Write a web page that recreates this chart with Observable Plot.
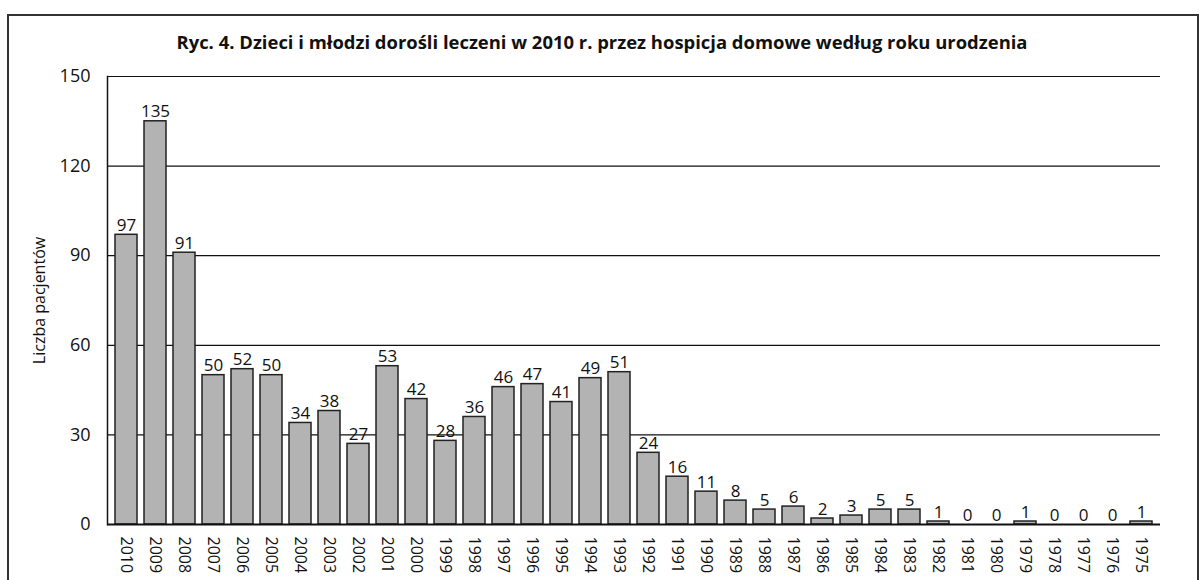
<!DOCTYPE html>
<html>
<head>
<meta charset="utf-8">
<script src="https://cdn.jsdelivr.net/npm/d3@7"></script>
<script src="https://cdn.jsdelivr.net/npm/@observablehq/plot@0.6"></script>
<style>
  body { margin: 0; background: #fff; }
  #wrap { position: relative; width: 1204px; height: 580px; overflow: hidden; }
  #border { position: absolute; left: 7px; top: 14px; width: 1192px; height: 600px; border: 2px solid #333; box-sizing: border-box; }
  #chart { position: absolute; left: 0; top: 0; }
</style>
</head>
<body>
<div id="wrap"><div id="border"></div><div id="chart"></div></div>
<script>
const title = "Ryc. 4. Dzieci i młodzi dorośli leczeni w 2010 r. przez hospicja domowe według roku urodzenia";
const yLabel = "Liczba pacjentów";
const years = ["2010","2009","2008","2007","2006","2005","2004","2003","2002","2001","2000","1999","1998","1997","1996","1995","1994","1993","1992","1991","1990","1989","1988","1987","1986","1985","1984","1983","1982","1981","1980","1979","1978","1977","1976","1975"];
const patients = [97,135,91,50,52,50,34,38,27,53,42,28,36,46,47,41,49,51,24,16,11,8,5,6,2,3,5,5,1,0,0,1,0,0,0,1];
const yTicks = [0,30,60,90,120,150];

const data = years.map((y, i) => ({year: y, value: patients[i]}));
const font = "'Open Sans', sans-serif";

const chart = Plot.plot({
  width: 1204,
  height: 580,
  marginLeft: 107,
  marginRight: 44,
  marginTop: 76,
  marginBottom: 56,
  style: {fontFamily: font, background: "transparent", color: "#111"},
  x: {domain: years, padding: 0.24, label: null},
  y: {domain: [0, 150], ticks: yTicks, label: null},
  marks: [
    Plot.ruleY(yTicks.filter(d => d > 0), {stroke: "#111", strokeWidth: 1.2}),
    Plot.barY(data, {x: "year", y: "value", fill: "#b3b3b3", stroke: "#222", strokeWidth: 1.5}),
    Plot.ruleY([0], {stroke: "#111", strokeWidth: 2}),
    Plot.frame({anchor: "left", stroke: "#111", strokeWidth: 1.5}),
    Plot.text(data, {x: "year", y: "value", text: d => String(d.value), lineAnchor: "bottom", dy: -4, fontSize: 17, fill: "#111"}),
    Plot.axisY({ticks: yTicks, tickSize: 0, tickPadding: 17, fontSize: 18, label: null}),
    Plot.axisX({tickSize: 0, tickPadding: 12, tickRotate: 90, fontSize: 16, label: null}),
    Plot.text([yLabel], {frameAnchor: "left", textAnchor: "middle", dx: -68, rotate: -90, fontSize: 16, fill: "#111"})
  ]
});

d3.select(chart).append("text")
  .attr("x", 602).attr("y", 49)
  .attr("text-anchor", "middle")
  .attr("font-family", font)
  .attr("font-weight", "bold")
  .attr("font-size", 18)
  .attr("fill", "#111")
  .attr("textLength", 851)
  .attr("lengthAdjust", "spacingAndGlyphs")
  .text(title);

document.getElementById("chart").appendChild(chart);
</script>
</body>
</html>
